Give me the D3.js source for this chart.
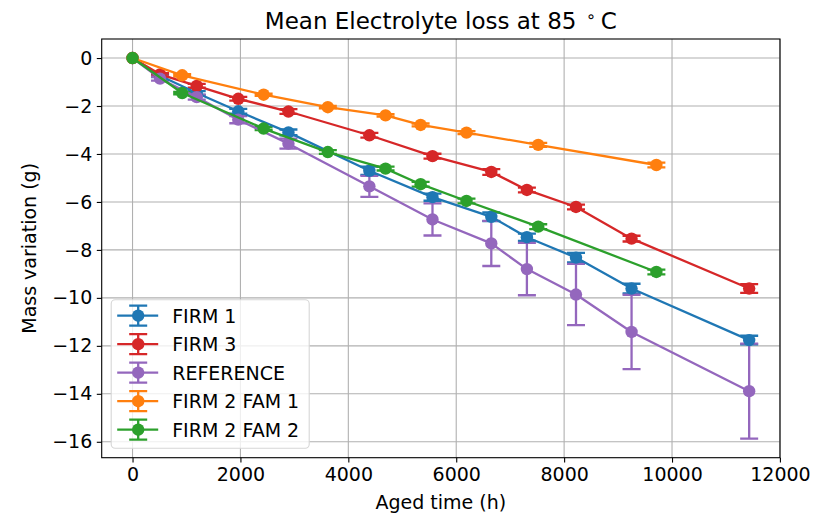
<!DOCTYPE html>
<html>
<head>
<meta charset="utf-8">
<script src="https://cdn.jsdelivr.net/npm/d3@7"></script>
<style>
    body { margin: 0; background: #fff; }
    svg { display: block; font-family: "DejaVu Sans", sans-serif; }
</style>
</head>
<body>
<div id="chart"></div>
<script>
// aged times (h) shared by FIRM 1, FIRM 3 and REFERENCE
const timeA = [0, 510, 1190, 1960, 2890, 4390, 5560, 6650, 7310, 8220, 9250, 11430];
// aged times (h) of the FIRM 2 families
const timeB = [0, 920, 2430, 3620, 4690, 5340, 6190, 7520, 9710];

const firm1Mass = [0, -0.74, -1.46, -2.22, -3.1, -4.7, -5.8, -6.62, -7.47, -8.32, -9.61, -11.76];
const firm1Err = [0, 0.05, 0.08, 0.1, 0.12, 0.17, 0.15, 0.18, 0.15, 0.2, 0.2, 0.18];

const firm3Mass = [0, -0.68, -1.16, -1.7, -2.23, -3.22, -4.09, -4.75, -5.5, -6.21, -7.53, -9.61];
const firm3Err = [0, 0.05, 0.08, 0.08, 0.1, 0.1, 0.1, 0.12, 0.1, 0.1, 0.12, 0.18];

const refMass = [0, -0.86, -1.63, -2.57, -3.57, -5.35, -6.73, -7.73, -8.8, -9.86, -11.42, -13.89];
const refErr = [0, 0.08, 0.1, 0.15, 0.21, 0.44, 0.67, 0.94, 1.09, 1.28, 1.55, 1.98];

const fam1Mass = [0, -0.72, -1.53, -2.05, -2.39, -2.79, -3.11, -3.62, -4.46];
const fam1Err = [0, 0.05, 0.05, 0.05, 0.05, 0.06, 0.06, 0.08, 0.1];

const fam2Mass = [0, -1.46, -2.94, -3.92, -4.61, -5.26, -5.96, -7.03, -8.92];
const fam2Err = [0, 0.05, 0.06, 0.08, 0.08, 0.1, 0.1, 0.1, 0.1];

const seriesNames = ["FIRM 1", "FIRM 3", "REFERENCE", "FIRM 2 FAM 1", "FIRM 2 FAM 2"];
const xTicks = [0, 2000, 4000, 6000, 8000, 10000, 12000];
const yTicks = [0, -2, -4, -6, -8, -10, -12, -14, -16];

const COLORS = ["#1f77b4", "#d62728", "#9467bd", "#ff7f0e", "#2ca02c"];

const LAYOUT = {
    WIDTH: 825,
    HEIGHT: 518,
    LEFT: 101.7,
    RIGHT: 780,
    TOP: 39,
    BOTTOM: 457.7,
    FONT: 19,
    TITLE_FONT: 23,
    LINE_W: 2.3,
    MARKER_R: 6.2,
    CAP: 9,
};

const zip = (t, m, e) => t.map((d, i) => ({ t: d, v: m[i], e: e[i] }));
const series = [
    zip(timeA, firm1Mass, firm1Err),
    zip(timeA, firm3Mass, firm3Err),
    zip(timeA, refMass, refErr),
    zip(timeB, fam1Mass, fam1Err),
    zip(timeB, fam2Mass, fam2Err),
].map((points, i) => ({ name: seriesNames[i], color: COLORS[i], points }));

const L = LAYOUT;
const svg = d3.select("#chart").append("svg")
    .attr("width", L.WIDTH)
    .attr("height", L.HEIGHT);

// matplotlib style 5% margins around the data
const all = series.flatMap(s => s.points);
const tMax = d3.max(all, d => d.t), tMin = d3.min(all, d => d.t);
const vMax = d3.max(all, d => d.v + d.e), vMin = d3.min(all, d => d.v - d.e);
const padT = (tMax - tMin) * 0.05, padV = (vMax - vMin) * 0.05;

const x = d3.scaleLinear()
    .domain([tMin - padT, tMax + padT])
    .range([L.LEFT, L.RIGHT]);

const y = d3.scaleLinear()
    .domain([vMin - padV, vMax + padV])
    .range([L.BOTTOM, L.TOP]);

// grid
const grid = svg.append("g")
    .attr("stroke", "#b0b0b0")
    .attr("stroke-width", 1.1);
grid.selectAll("line.gx")
    .data(xTicks)
    .join("line")
    .attr("x1", d => x(d)).attr("x2", d => x(d))
    .attr("y1", L.TOP).attr("y2", L.BOTTOM);
grid.selectAll("line.gy")
    .data(yTicks)
    .join("line")
    .attr("class", "gy")
    .attr("x1", L.LEFT).attr("x2", L.RIGHT)
    .attr("y1", d => y(d)).attr("y2", d => y(d));

// axes
const fmt = d => d < 0 ? "\u2212" + Math.abs(d) : String(d);

const xAxis = svg.append("g")
    .attr("transform", `translate(0,${L.BOTTOM})`)
    .call(d3.axisBottom(x).tickValues(xTicks).tickFormat(fmt).tickSizeOuter(0).tickSize(4.9).tickPadding(4.5));
const yAxis = svg.append("g")
    .attr("transform", `translate(${L.LEFT},0)`)
    .call(d3.axisLeft(y).tickValues(yTicks).tickFormat(fmt).tickSizeOuter(0).tickSize(4.9).tickPadding(4.5));

[xAxis, yAxis].forEach(g => {
    g.select(".domain").remove();
    g.selectAll(".tick line").attr("stroke", "#000").attr("stroke-width", 1.1);
    g.selectAll(".tick text")
        .attr("fill", "#000")
        .attr("font-size", L.FONT)
        .attr("font-family", "DejaVu Sans, sans-serif");
});

// error bars first (they sit under every data line, like matplotlib)
const bars = svg.append("g").attr("stroke-width", L.LINE_W);
series.forEach(s => {
    const g = bars.append("g").attr("stroke", s.color);
    const pts = s.points.filter(d => d.e > 0);
    g.selectAll("line.bar")
        .data(pts)
        .join("line")
        .attr("x1", d => x(d.t)).attr("x2", d => x(d.t))
        .attr("y1", d => y(d.v + d.e)).attr("y2", d => y(d.v - d.e));
    g.selectAll("path.cap")
        .data(pts)
        .join("path")
        .attr("d", d => `M${x(d.t) - L.CAP},${y(d.v + d.e)}H${x(d.t) + L.CAP}` +
            `M${x(d.t) - L.CAP},${y(d.v - d.e)}H${x(d.t) + L.CAP}`);
});

const line = d3.line()
    .x(d => x(d.t))
    .y(d => y(d.v));

series.forEach(s => {
    const g = svg.append("g");
    g.append("path")
        .attr("fill", "none")
        .attr("stroke", s.color)
        .attr("stroke-width", L.LINE_W)
        .attr("stroke-linejoin", "round")
        .attr("d", line(s.points));
    g.selectAll("circle")
        .data(s.points)
        .join("circle")
        .attr("cx", d => x(d.t))
        .attr("cy", d => y(d.v))
        .attr("r", L.MARKER_R)
        .attr("fill", s.color);
});

// frame
svg.append("rect")
    .attr("x", L.LEFT).attr("y", L.TOP)
    .attr("width", L.RIGHT - L.LEFT)
    .attr("height", L.BOTTOM - L.TOP)
    .attr("fill", "none")
    .attr("stroke", "#000")
    .attr("stroke-width", 1.1);

// legend, lower left
const legend = svg.append("g");
const lgX = L.LEFT + 9.5, lgBottom = L.BOTTOM - 9.5;
const rowH = 28.5;
const lgH = rowH * series.length + 6;
legend.append("rect")
    .attr("x", lgX).attr("y", lgBottom - lgH)
    .attr("width", 198).attr("height", lgH)
    .attr("rx", 4)
    .attr("fill", "#fff").attr("fill-opacity", 0.8)
    .attr("stroke", "#d6d6d6").attr("stroke-width", 1.1);

series.forEach((s, i) => {
    const cy = lgBottom - lgH + 16 + i * rowH;
    const g = legend.append("g").attr("stroke", s.color).attr("stroke-width", L.LINE_W);
    g.append("line").attr("x1", lgX + 6).attr("x2", lgX + 47).attr("y1", cy).attr("y2", cy);
    const cx = lgX + 27;
    g.append("path")
        .attr("fill", "none")
        .attr("d", `M${cx},${cy - 10}V${cy + 10}M${cx - L.CAP},${cy - 10}H${cx + L.CAP}M${cx - L.CAP},${cy + 10}H${cx + L.CAP}`);
    g.append("circle").attr("cx", cx).attr("cy", cy).attr("r", L.MARKER_R)
        .attr("stroke", "none").attr("fill", s.color);
    legend.append("text")
        .attr("x", lgX + 61).attr("y", cy)
        .attr("dy", "0.36em")
        .attr("font-size", L.FONT)
        .attr("fill", "#000")
        .text(s.name);
});

// labels
const title = svg.append("text")
    .attr("x", (L.LEFT + L.RIGHT) / 2)
    .attr("y", 29)
    .attr("text-anchor", "middle")
    .attr("font-size", L.TITLE_FONT)
    .attr("fill", "#000");
title.append("tspan").text("Mean Electrolyte loss at 85 ");
title.append("tspan").attr("dy", -7).attr("dx", 2).attr("font-size", 16).text("\u2218");
title.append("tspan").attr("dy", 7).attr("dx", 5).text("C");

svg.append("text")
    .attr("x", (L.LEFT + L.RIGHT) / 2)
    .attr("y", 509)
    .attr("text-anchor", "middle")
    .attr("font-size", L.FONT)
    .attr("fill", "#000")
    .text("Aged time (h)");

svg.append("text")
    .attr("transform", `translate(36,${(L.TOP + L.BOTTOM) / 2}) rotate(-90)`)
    .attr("text-anchor", "middle")
    .attr("font-size", L.FONT)
    .attr("fill", "#000")
    .text("Mass variation (g)");
</script>
</body>
</html>
